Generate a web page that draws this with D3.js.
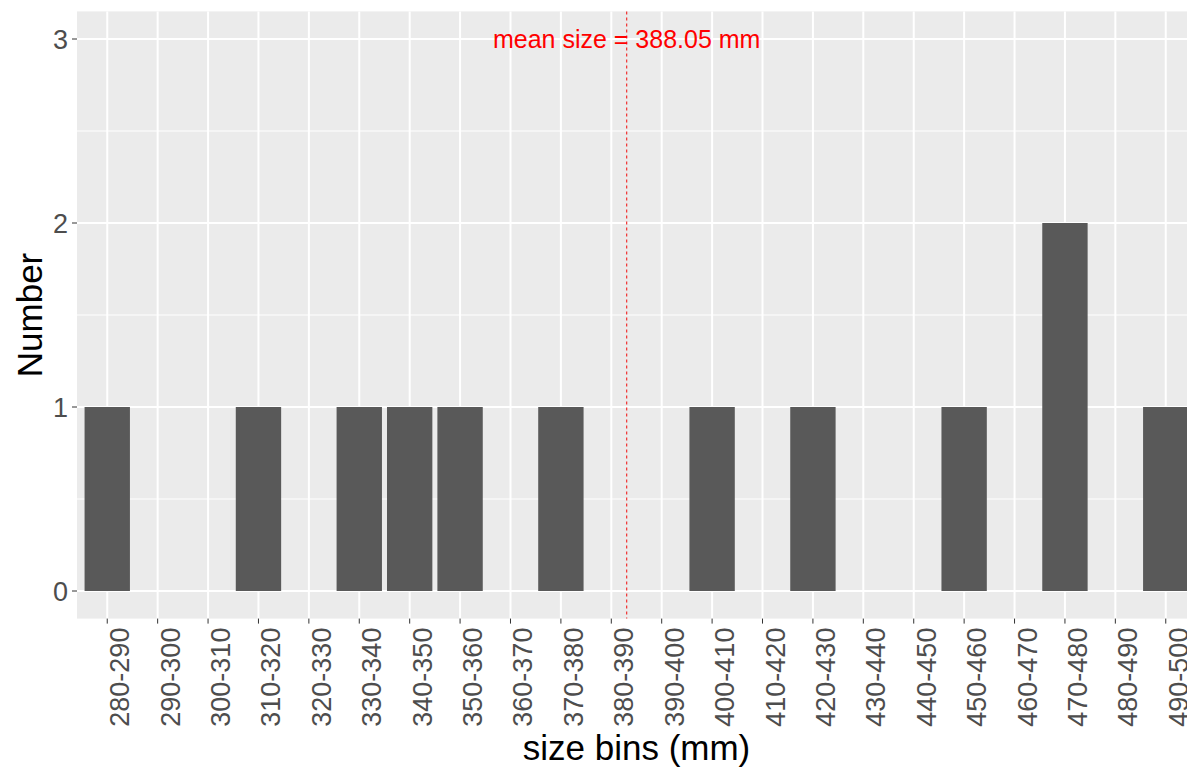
<!DOCTYPE html>
<html>
<head>
<meta charset="utf-8">
<script src="https://cdn.jsdelivr.net/npm/d3@7"></script>
<style>
  html, body { margin: 0; padding: 0; background: #ffffff; }
  svg { display: block; }
  text { font-family: "Liberation Sans", Arial, sans-serif; }
</style>
</head>
<body>
<svg id="chart" width="1187" height="775"></svg>
<script>
// ---- data ----
const bins = ["280-290","290-300","300-310","310-320","320-330","330-340","340-350","350-360","360-370","370-380","380-390","390-400","400-410","410-420","420-430","430-440","440-450","450-460","460-470","470-480","480-490","490-500"];
const counts = [1,0,0,1,0,1,1,1,0,1,0,0,1,0,1,0,0,1,0,2,0,1];
const binMidpoints = [285,295,305,315,325,335,345,355,365,375,385,395,405,415,425,435,445,455,465,475,485,495];
const yTicks = [0,1,2,3];
const yMinorTicks = [0.5,1.5,2.5];
const meanSize = 388.05;
const meanLabel = "mean size = 388.05 mm";
const xTitle = "size bins (mm)";
const yTitle = "Number";

// ---- layout ----
const W = 1187, H = 775;
const panel = { left: 77, right: 1196, top: 11.4, bottom: 618.6 };

const svg = d3.select("#chart");

const x = d3.scalePoint().domain(bins).range([panel.left, panel.right]).padding(0.6);
const step = x.step();
const barW = step * 0.9;
const xCont = d3.scaleLinear()
  .domain([binMidpoints[0], binMidpoints[binMidpoints.length - 1]])
  .range([x(bins[0]), x(bins[bins.length - 1])]);
const y = d3.scaleLinear().domain([-0.15, 3.15]).range([panel.bottom, panel.top]);

// panel background
svg.append("rect")
  .attr("x", panel.left).attr("y", panel.top)
  .attr("width", panel.right - panel.left).attr("height", panel.bottom - panel.top)
  .attr("fill", "#EBEBEB");

// minor grid (y)
svg.append("g").selectAll("line").data(yMinorTicks).join("line")
  .attr("x1", panel.left).attr("x2", panel.right)
  .attr("y1", d => y(d)).attr("y2", d => y(d))
  .attr("stroke", "#ffffff").attr("stroke-width", 1);

// major grid
svg.append("g").selectAll("line").data(yTicks).join("line")
  .attr("x1", panel.left).attr("x2", panel.right)
  .attr("y1", d => y(d)).attr("y2", d => y(d))
  .attr("stroke", "#ffffff").attr("stroke-width", 2);
svg.append("g").selectAll("line").data(bins).join("line")
  .attr("x1", d => x(d)).attr("x2", d => x(d))
  .attr("y1", panel.top).attr("y2", panel.bottom)
  .attr("stroke", "#ffffff").attr("stroke-width", 2);

// bars
svg.append("g").selectAll("rect").data(bins.map((b, i) => ({ b, v: counts[i] })).filter(d => d.v > 0)).join("rect")
  .attr("x", d => x(d.b) - barW / 2)
  .attr("width", barW)
  .attr("y", d => y(d.v))
  .attr("height", d => y(0) - y(d.v))
  .attr("fill", "#595959");

// mean line
svg.append("line")
  .attr("x1", xCont(meanSize)).attr("x2", xCont(meanSize))
  .attr("y1", panel.top).attr("y2", panel.bottom)
  .attr("stroke", "#F03030").attr("stroke-width", 1.2)
  .attr("stroke-dasharray", "3,3");

svg.append("text")
  .attr("x", xCont(meanSize)).attr("y", y(3))
  .attr("dy", "0.35em")
  .attr("text-anchor", "middle")
  .attr("font-size", 25)
  .attr("fill", "#FF0000")
  .text(meanLabel);

// y axis ticks + labels
const yAxis = svg.append("g");
yAxis.selectAll("line").data(yTicks).join("line")
  .attr("x1", panel.left - 5).attr("x2", panel.left)
  .attr("y1", d => y(d)).attr("y2", d => y(d))
  .attr("stroke", "#333333").attr("stroke-width", 1);
yAxis.selectAll("text").data(yTicks).join("text")
  .attr("x", panel.left - 9).attr("y", d => y(d))
  .attr("dy", "0.36em")
  .attr("text-anchor", "end")
  .attr("font-size", 27)
  .attr("fill", "#4D4D4D")
  .text(d => d);

// x axis ticks + labels
const xAxis = svg.append("g");
xAxis.selectAll("line").data(bins).join("line")
  .attr("x1", d => x(d)).attr("x2", d => x(d))
  .attr("y1", panel.bottom).attr("y2", panel.bottom + 5)
  .attr("stroke", "#333333").attr("stroke-width", 1);
xAxis.selectAll("text").data(bins).join("text")
  .attr("transform", d => `translate(${x(d) + 22},${panel.bottom + 9}) rotate(-90)`)
  .attr("text-anchor", "end")
  .attr("font-size", 27)
  .attr("fill", "#4D4D4D")
  .text(d => d);

// axis titles
svg.append("text")
  .attr("x", (panel.left + panel.right) / 2).attr("y", 760)
  .attr("text-anchor", "middle")
  .attr("font-size", 35)
  .attr("fill", "#000000")
  .text(xTitle);

svg.append("text")
  .attr("transform", `translate(42,${(panel.top + panel.bottom) / 2}) rotate(-90)`)
  .attr("text-anchor", "middle")
  .attr("font-size", 35)
  .attr("fill", "#000000")
  .text(yTitle);
</script>
</body>
</html>
